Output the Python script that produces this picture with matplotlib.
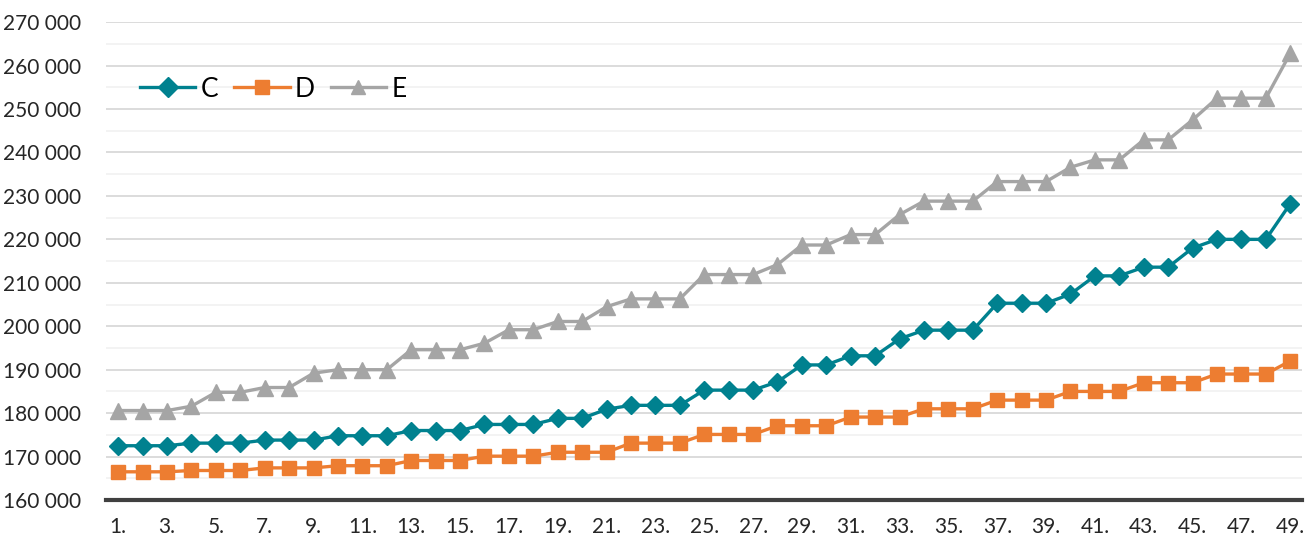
import numpy as np
import matplotlib.pyplot as plt
from matplotlib.ticker import FuncFormatter, MultipleLocator

# data
periods = np.arange(1, 50)
tick_labels = [str(i) + '.' for i in periods]

C = [172500, 172500, 172500, 173100, 173100, 173100, 173800, 173800, 173800,
     174800, 174800, 174800, 176000, 176000, 176000, 177400, 177400, 177400,
     178800, 178800, 180900, 181800, 181800, 181800, 185300, 185300, 185300,
     187200, 191100, 191100, 193200, 193200, 197100, 199100, 199100, 199100,
     205300, 205300, 205300, 207400, 211600, 211600, 213600, 213600, 218000,
     220000, 220000, 220000, 228200]
D = [166500, 166500, 166500, 166800, 166800, 166800, 167400, 167400, 167400,
     167900, 167900, 167900, 169100, 169100, 169100, 170100, 170100, 170100,
     171000, 171000, 171000, 173100, 173100, 173100, 175100, 175100, 175100,
     177100, 177100, 177100, 179100, 179100, 179100, 181000, 181000, 181000,
     183000, 183000, 183000, 185000, 185000, 185000, 187000, 187000, 187000,
     189000, 189000, 189000, 192000]
E = [180600, 180600, 180600, 181600, 184800, 184800, 185900, 185900, 189200,
     190000, 190000, 190000, 194600, 194600, 194600, 196100, 199200, 199200,
     201100, 201100, 204500, 206300, 206300, 206300, 211900, 211900, 211900,
     214200, 218700, 218700, 221100, 221100, 225700, 228800, 228800, 228800,
     233300, 233300, 233300, 236600, 238300, 238300, 242900, 242900, 247500,
     252500, 252500, 252500, 262800]

plt.rcParams['font.family'] = ['Lato', 'DejaVu Sans']

fig = plt.figure(figsize=(13.09, 5.40), dpi=100)
ax = fig.add_axes([0.081, 0.074, 0.914, 0.885])

ax.plot(periods, C, color='#00818F', lw=2.4, marker='D', ms=9, label='C')
ax.plot(periods, D, color='#ED7D31', lw=2.4, marker='s', ms=10, label='D')
ax.plot(periods, E, color='#A5A5A5', lw=2.4, marker='^', ms=11, label='E')

ax.set_xlim(0.5, 49.5)
ax.set_ylim(160000, 270000)
ax.yaxis.set_major_locator(MultipleLocator(10000))
ax.yaxis.set_minor_locator(MultipleLocator(5000))
ax.yaxis.set_major_formatter(FuncFormatter(lambda v, p: '{:,.0f}'.format(v).replace(',', ' ')))
ax.set_xticks(periods[::2])
ax.set_xticklabels(tick_labels[::2])

ax.grid(axis='y', which='major', color='#D9D9D9', lw=1.3)
ax.grid(axis='y', which='minor', color='#F2F2F2', lw=1.3)
ax.set_axisbelow(True)
for s in ['top', 'right', 'left']:
    ax.spines[s].set_visible(False)
ax.spines['bottom'].set_color('#404040')
ax.spines['bottom'].set_linewidth(3)
ax.tick_params(axis='both', which='both', length=0, labelsize=15, colors='#262626')
ax.tick_params(axis='y', pad=18)
ax.tick_params(axis='x', pad=12)

leg = ax.legend(loc='center left', bbox_to_anchor=(0.107, 0.835), bbox_transform=fig.transFigure,
                ncol=3, frameon=False, fontsize=19, handlelength=2.1,
                handletextpad=0.2, columnspacing=0.6, borderaxespad=0, borderpad=0)
for h in leg.legend_handles:
    h.set_markersize(10)

fig.savefig('out.png', dpi=100)
